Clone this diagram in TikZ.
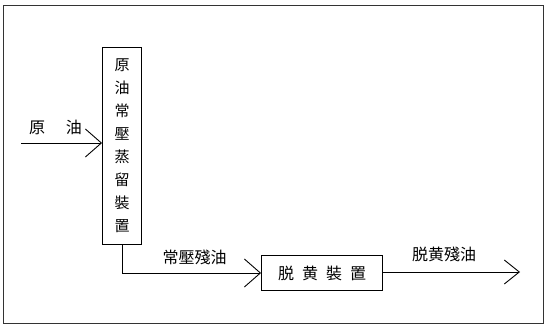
\documentclass[tikz,border=0pt]{standalone}
\usepackage{fontspec}
\newfontfamily\cjk{Noto Sans CJK JP}
\usetikzlibrary{arrows.meta}
\begin{document}
\begin{tikzpicture}[x=1pt,y=-1pt,
  line width=0.9pt,
  unitbox/.style={draw, inner sep=0pt},
  lbl/.style={inner sep=0pt, font=\cjk\fontsize{16}{16}\selectfont},
  flow/.style={-{Straight Barb[length=16pt,width=28pt,line width=0.9pt]}},
  flowout/.style={-{Straight Barb[length=15pt,width=24pt,line width=0.9pt]}}]
\useasboundingbox (0,0) rectangle (545,326);
\draw[line width=0.7pt, black!80] (3.5,5) rectangle (543,323);
% distillation unit
\node[unitbox, minimum width=39pt, minimum height=197pt, align=center,
      font=\cjk\fontsize{15}{23}\selectfont] (dist) at (122,146)
  {原\\油\\常\\壓\\蒸\\留\\裝\\置};
% desulfurization unit
\node[unitbox, minimum width=121pt, minimum height=35pt,
      font=\cjk\fontsize{16}{16}\selectfont] (desulf) at (322,273)
  {脱\hspace{8pt}黄\hspace{8pt}裝\hspace{8pt}置};
% input
\coordinate (src) at (21,143);
\draw[flow] (src) -- (src -| dist.west);
\node[lbl] (lin) at (55.5,127) {原\hspace{21pt}油};
% residue to desulfurization
\draw[flow] (dist.south) -- (dist.south |- desulf.west) -- (desulf.west);
\node[lbl] (lres) at (194.5,257) {常壓殘油};
% output
\coordinate (dst) at (520,272);
\draw[flowout] (desulf.east |- dst) -- (dst);
\node[lbl] (lout) at (444,254) {脱黄殘油};
\end{tikzpicture}
\end{document}
